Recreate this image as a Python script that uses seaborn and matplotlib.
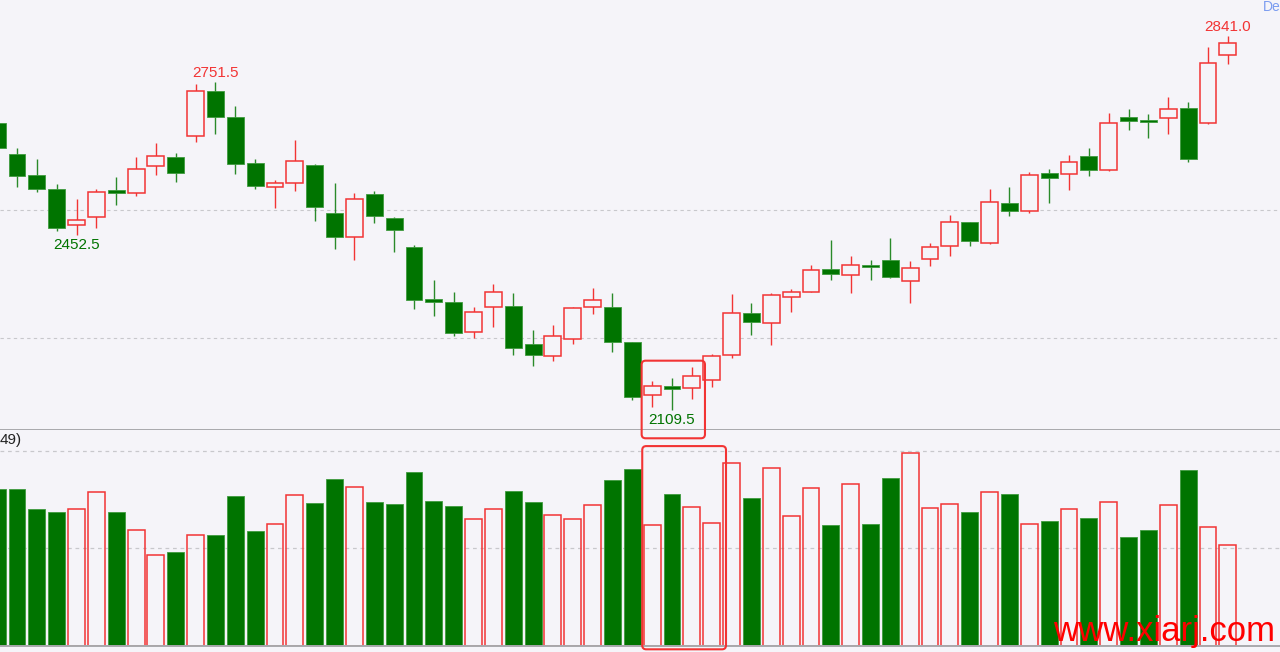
import numpy as np
import pandas as pd
import seaborn as sns
import matplotlib.pyplot as plt
from matplotlib.patches import FancyBboxPatch

# Daily candles (price panel)
opens = [2670.2, 2610.2, 2569.1, 2542.3, 2471.9, 2487.5, 2539.2, 2533.3, 2587.3, 2604.3,
         2645.4, 2733.4, 2683.1, 2592.6, 2545.0, 2552.9, 2588.1, 2494.2, 2447.2, 2532.5,
         2484.4, 2428.9, 2326.0, 2320.7, 2262.0, 2310.3, 2312.9, 2238.5, 2215.7, 2248.3,
         2310.9, 2310.9, 2241.9, 2138.2, 2155.8, 2151.9, 2167.5, 2217.6, 2298.6, 2279.0,
         2331.1, 2340.8, 2385.2, 2372.9, 2392.5, 2403.4, 2362.4, 2404.2, 2429.6, 2476.6,
         2435.5, 2513.7, 2498.1, 2573.0, 2570.5, 2605.7, 2578.9, 2683.1, 2676.1, 2680.6,
         2699.6, 2670.8, 2803.2]
closes = [2621.3, 2567.7, 2541.7, 2464.8, 2480.5, 2535.8, 2533.3, 2580.8, 2605.7, 2573.6,
          2733.4, 2682.5, 2591.2, 2548.2, 2553.5, 2595.9, 2505.9, 2447.2, 2521.6, 2489.5,
          2460.9, 2324.6, 2321.3, 2259.5, 2300.5, 2339.7, 2230.1, 2217.6, 2254.2, 2309.0,
          2324.0, 2241.9, 2134.9, 2157.0, 2149.9, 2176.5, 2215.1, 2299.8, 2281.0, 2333.8,
          2340.2, 2383.9, 2376.0, 2393.1, 2388.6, 2369.0, 2386.6, 2428.9, 2477.2, 2440.6,
          2516.3, 2499.3, 2568.5, 2563.8, 2593.9, 2578.9, 2670.2, 2674.7, 2672.8, 2698.2,
          2599.8, 2788.2, 2826.7]
highs = [2674.7, 2622.5, 2600.4, 2552.1, 2521.6, 2541.1, 2565.2, 2603.7, 2631.1, 2611.5,
         2746.5, 2751.5, 2704.1, 2599.8, 2558.7, 2637.6, 2590.0, 2553.5, 2534.5, 2537.2,
         2487.5, 2431.6, 2363.7, 2340.2, 2310.3, 2356.5, 2337.7, 2265.9, 2275.7, 2311.5,
         2348.7, 2338.3, 2243.0, 2166.2, 2172.0, 2193.5, 2218.4, 2336.3, 2318.1, 2338.9,
         2346.1, 2393.1, 2442.0, 2410.7, 2402.8, 2445.9, 2400.9, 2436.1, 2490.9, 2477.8,
         2542.3, 2546.2, 2575.0, 2580.2, 2607.6, 2621.9, 2690.4, 2698.2, 2687.8, 2721.1,
         2712.5, 2820.1, 2841.0]
lows = [2620.0, 2545.0, 2535.3, 2459.6, 2452.5, 2464.8, 2510.4, 2528.6, 2569.1, 2556.0,
        2634.2, 2649.9, 2571.6, 2541.1, 2505.1, 2538.4, 2479.7, 2424.9, 2402.3, 2475.2,
        2418.5, 2307.0, 2293.9, 2253.6, 2249.7, 2271.2, 2217.6, 2196.1, 2205.9, 2238.5,
        2296.6, 2222.3, 2129.0, 2115.9, 2109.5, 2131.5, 2153.8, 2210.6, 2256.1, 2237.2,
        2301.7, 2340.2, 2364.3, 2338.9, 2364.3, 2367.6, 2319.3, 2391.7, 2411.3, 2430.8,
        2434.1, 2488.9, 2495.4, 2513.7, 2539.8, 2567.1, 2577.5, 2657.1, 2641.5, 2649.9,
        2594.5, 2668.9, 2785.6]
# volume (x 10^5)
volumes = [1.61, 1.61, 1.40, 1.37, 1.40, 1.58, 1.37, 1.19, 0.93, 0.96,
           1.14, 1.14, 1.54, 1.18, 1.25, 1.55, 1.47, 1.71, 1.63, 1.48,
           1.46, 1.78, 1.49, 1.44, 1.30, 1.40, 1.59, 1.48, 1.34, 1.30,
           1.45, 1.70, 1.81, 1.24, 1.56, 1.43, 1.26, 1.88, 1.52, 1.83,
           1.33, 1.62, 1.24, 1.66, 1.25, 1.72, 1.98, 1.42, 1.46, 1.37,
           1.58, 1.56, 1.25, 1.28, 1.41, 1.31, 1.48, 1.12, 1.19, 1.45,
           1.80, 1.22, 1.04]

# labelled extremes: (candle index, value, 'high'/'low')
marks = [(11, 2751.5, 'high'), (4, 2452.5, 'low'), (34, 2109.5, 'low'), (62, 2841.0, 'high')]

BG = '#f5f4f9'
GREEN = '#007400'
GREEN_WICK = '#2a8a2a'
RED = '#f23434'
GRID = '#c8c8cc'

sns.set_theme(style='white', rc={'axes.facecolor': BG, 'figure.facecolor': BG})
plt.rcParams['font.family'] = ['Liberation Sans', 'DejaVu Sans']

df = pd.DataFrame({'open': opens, 'close': closes, 'high': highs, 'low': lows, 'volume': volumes})
df['idx'] = np.arange(len(df))
df['up'] = df['close'] >= df['open']

fig = plt.figure(figsize=(12.8, 6.52), dpi=100)
ax = fig.add_axes([0, 222 / 652, 1, 430 / 652])
ax_vol = fig.add_axes([0, 6 / 652, 1, 216 / 652], sharex=ax)

XLIM = (0.144, 64.63)
WIDTH = 0.85

# ---- candles ----
for up, wick in [(True, RED), (False, GREEN_WICK)]:
    sub = df[df['up'] == up]
    ax.vlines(sub['idx'], sub['low'], sub['high'], color=wick, lw=1.0, zorder=2)
    body_lo = np.minimum(sub['open'], sub['close'])
    body_h = np.maximum(np.abs(sub['close'] - sub['open']), 1.0)
    if up:
        ax.bar(sub['idx'], body_h, bottom=body_lo, width=WIDTH, facecolor=BG,
               edgecolor=RED, lw=1.1, zorder=3)
    else:
        ax.bar(sub['idx'], body_h, bottom=body_lo, width=WIDTH, facecolor=GREEN,
               edgecolor='#3f9a3f', lw=0.6, zorder=3)

ax.set_ylim(2070.3, 2911.4)
ax.set_yticks([2250, 2500])
ax.grid(axis='y', color=GRID, lw=0.8, ls=(0, (3, 3)))
ax.grid(axis='x', visible=False)

for i, val, kind in marks:
    col = RED if kind == 'high' else GREEN
    dy = 9 if kind == 'high' else -10
    ax.annotate(f'{val:.1f}', (i, val), xytext=(0, dy), textcoords='offset pixels',
                ha='center', va='center', fontsize=11, color=col, zorder=5)

# ---- volume ----
down_df = df[~df['up']]
up_df = df[df['up']]
sns.barplot(data=down_df, x='idx', y='volume', native_scale=True, color=GREEN,
            saturation=1, width=WIDTH, errorbar=None, ax=ax_vol,
            edgecolor='#3f9a3f', linewidth=0.6)
sns.barplot(data=up_df, x='idx', y='volume', native_scale=True, color=RED,
            saturation=1, width=WIDTH, errorbar=None, ax=ax_vol, fill=False,
            linewidth=1.1)
ax_vol.set_ylim(0, 2.215)
ax_vol.set_yticks([1, 2])
ax_vol.grid(axis='y', color=GRID, lw=0.9, ls=(0, (3, 3)))
ax_vol.grid(axis='x', visible=False)
ax_vol.set_xlabel('')
ax_vol.set_ylabel('')
ax_vol.text(0.0, 0.954, '49)', transform=ax_vol.transAxes, ha='left', va='center',
            fontsize=11, color='#222222')

for a in (ax, ax_vol):
    a.set_xlim(*XLIM)
    a.tick_params(length=0, labelleft=False, labelbottom=False)
    a.set_axisbelow(True)
    for s in ('top', 'left', 'right'):
        a.spines[s].set_visible(False)
    a.spines['bottom'].set_color('#a8a8ac')
    a.spines['bottom'].set_linewidth(1.4)

# ---- highlight boxes (overlay in pixel space, placed from data coords) ----
ov = fig.add_axes([0, 0, 1, 1], facecolor='none')
ov.set_xlim(0, 1280)
ov.set_ylim(0, 652)
ov.axis('off')


def box(axis, x0, x1, y0, y1):
    (px0, py0) = axis.transData.transform((x0, y0))
    (px1, py1) = axis.transData.transform((x1, y1))
    ov.add_patch(FancyBboxPatch((px0, py0), px1 - px0, py1 - py0,
                                boxstyle='round,pad=0,rounding_size=4',
                                fill=False, edgecolor=RED, lw=1.5, zorder=6))


box(ax, 32.47, 35.66, 2054.1, 2205.9)
box(ax_vol, 32.5, 36.72, -0.034, 2.05)

fig.text(1263 / 1280, 1 - 7 / 652, 'De', color='#7b9cf0', fontsize=10, ha='left', va='center')
fig.text(1053 / 1280, 1 - 641 / 652, 'www.xiarj.com', color='#ff0000', fontsize=25,
         ha='left', va='baseline')

fig.savefig('out.png', dpi=100, facecolor=BG)
